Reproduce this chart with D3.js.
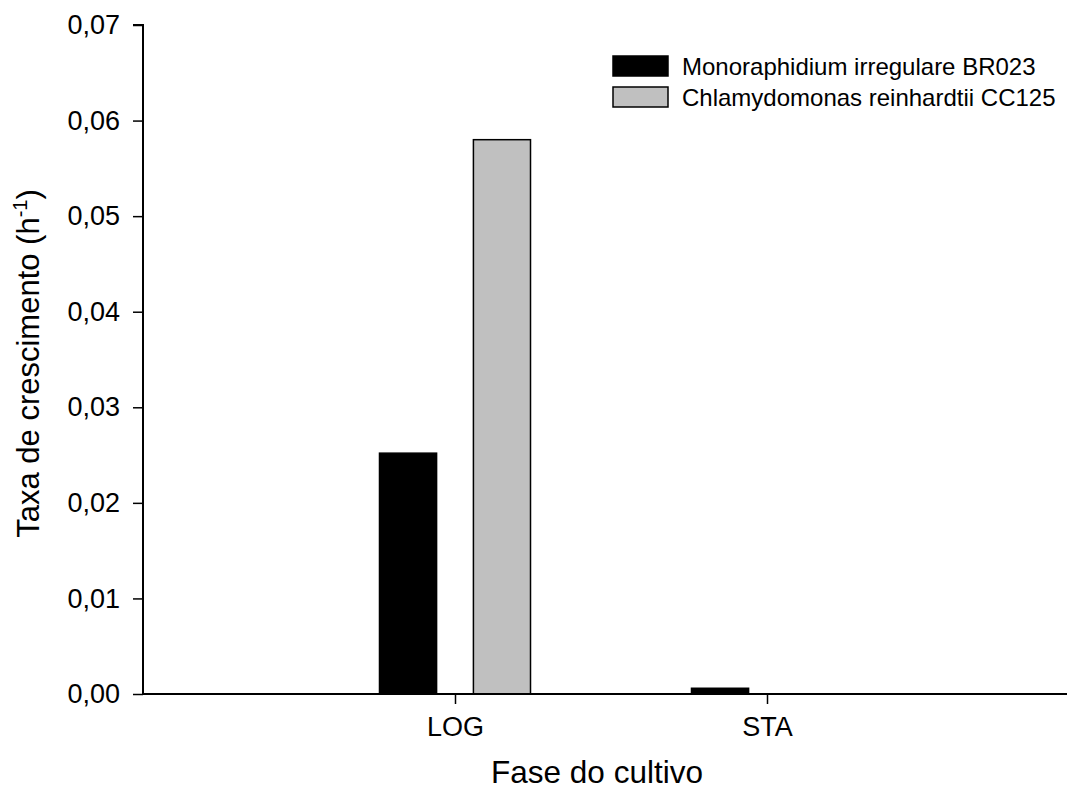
<!DOCTYPE html>
<html>
<head>
<meta charset="utf-8">
<script src="https://cdn.jsdelivr.net/npm/d3@7"></script>
<style>
  html, body { margin: 0; padding: 0; background: #fff; }
  svg { display: block; font-family: Arial, "Liberation Sans", sans-serif; }
</style>
</head>
<body>
<svg id="chart" width="1067" height="794"></svg>
<script>
// Growth rate per culture phase for two microalgae strains
const phases = ["LOG", "STA"];
const seriesNames = ["Monoraphidium irregulare BR023", "Chlamydomonas reinhardtii CC125"];
const monoraphidium = [0.0252, 0.0006];
const chlamydomonas = [0.058, 0.0];
const seriesColors = ["#000000", "#c0c0c0"];
const yTicks = [0, 0.01, 0.02, 0.03, 0.04, 0.05, 0.06, 0.07];

const series = [monoraphidium, chlamydomonas];

const svg = d3.select("#chart");
const plotLeft = 143, plotTop = 25, plotBottom = 694;

// Phases sit at positions 1, 2 on a continuous axis
const x = d3.scaleLinear().domain([0, 3]).range([plotLeft, plotLeft + 3 * 312]);
const y = d3.scaleLinear().domain([0, 0.07]).range([plotBottom, plotTop]);

const barW = 0.183;   // bar width in axis units
const gap = 0.118;    // gap between paired bars
const offsets = [-(barW + gap) / 2, (barW + gap) / 2];

// Bars
series.forEach((vals, si) => {
  svg.append("g").selectAll("rect")
    .data(vals)
    .join("rect")
    .attr("x", (d, i) => x(i + 1 + offsets[si] - barW / 2))
    .attr("width", x(barW) - x(0))
    .attr("y", d => y(d))
    .attr("height", d => y(0) - y(d))
    .attr("fill", seriesColors[si])
    .attr("stroke", d => d > 0 ? "#000" : "none")
    .attr("stroke-width", 1.5);
});

// Y axis
const yAxis = d3.axisLeft(y)
  .tickValues(yTicks)
  .tickSize(10)
  .tickPadding(13)
  .tickFormat(d => d3.format(".2f")(d).replace(".", ","));
const gy = svg.append("g").attr("transform", `translate(${plotLeft},0)`).call(yAxis);
gy.select(".domain").attr("stroke-width", 2).attr("d", `M-10,${plotTop}H0V${plotBottom}`);
gy.selectAll(".tick line").attr("stroke-width", 1.5);
gy.selectAll(".tick text").attr("font-size", 27).attr("fill", "#000")
  .attr("font-family", "Arial, 'Liberation Sans', sans-serif");

// X axis
const xAxis = d3.axisBottom(x)
  .tickValues([1, 2])
  .tickSize(10)
  .tickPadding(13)
  .tickFormat(d => phases[d - 1]);
const gx = svg.append("g").attr("transform", `translate(0,${plotBottom})`).call(xAxis);
gx.select(".domain").attr("stroke-width", 2).attr("d", `M${plotLeft},0H${x(3)}`);
gx.selectAll(".tick line").attr("stroke-width", 1.5);
gx.selectAll(".tick text").attr("font-size", 27).attr("fill", "#000")
  .attr("font-family", "Arial, 'Liberation Sans', sans-serif");

// Axis titles
svg.append("text")
  .attr("x", 597).attr("y", 783)
  .attr("text-anchor", "middle")
  .attr("font-size", 31.5)
  .text("Fase do cultivo");

const yt = svg.append("text")
  .attr("transform", `translate(39,${(195 + 532) / 2}) rotate(-90)`)
  .attr("text-anchor", "middle")
  .attr("font-size", 31);
yt.append("tspan").text("Taxa de crescimento (h");
yt.append("tspan").attr("font-size", 20).attr("dy", -12).text("-1");
yt.append("tspan").attr("dy", 12).text(")");

// Legend
const legend = svg.append("g");
seriesNames.forEach((name, i) => {
  const ly = 56 + i * 31;
  legend.append("rect")
    .attr("x", 613).attr("y", ly)
    .attr("width", 55).attr("height", 20)
    .attr("fill", seriesColors[i])
    .attr("stroke", "#000").attr("stroke-width", 1.5);
  legend.append("text")
    .attr("x", 682).attr("y", ly + 19)
    .attr("font-size", 24)
    .text(name);
});
</script>
</body>
</html>
